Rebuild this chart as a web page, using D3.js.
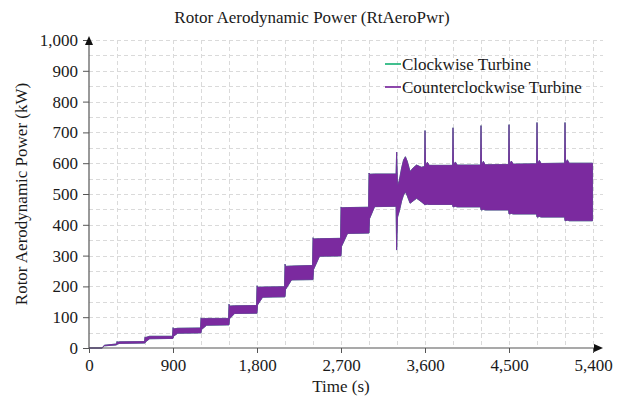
<!DOCTYPE html>
<html>
<head>
<meta charset="utf-8">
<script src="https://cdn.jsdelivr.net/npm/d3@7"></script>
<style>
  body { margin: 0; background: #fff; }
  svg text { font-family: "Liberation Serif", "Times New Roman", serif; fill: #1a1a1a; }
</style>
</head>
<body>
<svg id="chart" width="624" height="403"></svg>
<script>
// rotor power envelope (min/max of the oscillating signal), both turbines
const timeS = [0, 140, 165, 295, 300, 306, 330, 595, 600, 606, 650, 895, 900, 906, 950, 1195,
  1200, 1206, 1260, 1495, 1500, 1506, 1560, 1795, 1800, 1806, 1860, 2095, 2100, 2106, 2170, 2395,
  2400, 2406, 2470, 2695, 2700, 2706, 2770, 2995, 3000, 3006, 3060, 3290, 3296, 3306, 3325, 3350,
  3370, 3390, 3410, 3440, 3475, 3510, 3560, 3595, 3600, 3606, 3625, 3645, 3895, 3900, 3906, 3925,
  3945, 4195, 4200, 4206, 4225, 4245, 4495, 4500, 4506, 4525, 4545, 4795, 4800, 4806, 4825, 4845,
  5095, 5100, 5106, 5125, 5145, 5395];
const upperKW = [0, 0, 9, 13, 21, 19, 20, 21, 36, 34, 38, 38, 66, 62, 64, 65,
  98, 95, 96, 96, 142, 136, 137, 138, 202, 197, 198, 199, 272, 265, 266, 268,
  358, 354, 355, 356, 458, 455, 456, 457, 568, 564, 565, 565, 636, 525, 545, 585,
  610, 621, 606, 573, 585, 594, 587, 589, 706, 592, 603, 593, 593, 715, 593, 604,
  594, 594, 722, 594, 606, 595, 596, 725, 596, 607, 597, 598, 732, 598, 609, 599,
  600, 732, 600, 611, 600, 600];
const lowerKW = [0, 0, 7, 10, 12, 13, 15, 16, 16, 20, 30, 31, 31, 38, 48, 49,
  49, 60, 74, 75, 75, 95, 112, 113, 113, 140, 165, 166, 166, 190, 221, 222,
  222, 255, 298, 299, 299, 330, 372, 373, 373, 420, 459, 460, 318, 425, 445, 478,
  497, 507, 494, 470, 478, 486, 475, 466, 464, 466, 467, 466, 466, 458, 458, 460,
  458, 458, 448, 448, 450, 448, 448, 435, 435, 437, 435, 435, 425, 425, 427, 425,
  425, 413, 413, 415, 413, 413];

const xTicks = [0, 900, 1800, 2700, 3600, 4500, 5400];
const yTicks = [0, 100, 200, 300, 400, 500, 600, 700, 800, 900, 1000];
const seriesNames = ["Clockwise Turbine", "Counterclockwise Turbine"];
const seriesColors = ["#22b67c", "#7b2a9f"];

const svg = d3.select("#chart");
const m = {left: 89, right: 593, top: 40, bottom: 348};

const x = d3.scaleLinear().domain([0, 5400]).range([m.left, m.right]);
const y = d3.scaleLinear().domain([0, 1000]).range([m.bottom, m.top]);

// dashed grid, finer than the labelled ticks
const grid = svg.append("g").attr("stroke", "#dadada").attr("stroke-dasharray", "4,3").attr("stroke-width", 1);
grid.selectAll("line.h").data(d3.range(50, 1001, 50)).enter().append("line")
  .attr("x1", m.left).attr("x2", 603)
  .attr("y1", d => Math.round(y(d)) + 0.5).attr("y2", d => Math.round(y(d)) + 0.5);
grid.selectAll("line.v").data(d3.range(300, 5401, 300)).enter().append("line")
  .attr("y1", m.top).attr("y2", m.bottom)
  .attr("x1", d => Math.round(x(d)) + 0.5).attr("x2", d => Math.round(x(d)) + 0.5);

const band = timeS.map((t, i) => ({t: t, hi: upperKW[i], lo: lowerKW[i]}));
const area = d3.area().x(d => x(d.t)).y0(d => y(d.lo)).y1(d => y(d.hi));

// clockwise first, counterclockwise drawn over it
seriesColors.forEach(c => {
  svg.append("path").datum(band)
    .attr("d", area)
    .attr("fill", c)
    .attr("stroke", c)
    .attr("stroke-width", 0.8);
});

// axes
const yAxis = svg.append("g").attr("transform", `translate(${m.left},0)`)
  .call(d3.axisLeft(y).tickValues(yTicks).tickFormat(d3.format(",")).tickSize(6).tickPadding(5));
const xAxis = svg.append("g").attr("transform", `translate(0,${m.bottom})`)
  .call(d3.axisBottom(x).tickValues(xTicks).tickFormat(d3.format(",")).tickSize(5).tickPadding(6));
[yAxis, xAxis].forEach(a => {
  a.select(".domain").remove();
  a.selectAll("line").attr("stroke", "#555");
  a.selectAll("text").attr("font-size", 17).attr("font-family", "Liberation Serif").attr("fill", "#1a1a1a");
});

svg.append("line").attr("x1", m.left).attr("x2", m.left).attr("y1", m.bottom).attr("y2", 44)
  .attr("stroke", "#555").attr("stroke-width", 1.2);
svg.append("line").attr("x1", m.left).attr("x2", 597).attr("y1", m.bottom).attr("y2", m.bottom)
  .attr("stroke", "#555").attr("stroke-width", 1.2);
svg.append("path").attr("d", `M${m.left},36 L${m.left - 4},45 L${m.left + 4},45 Z`).attr("fill", "#111");
svg.append("path").attr("d", `M603,${m.bottom} L594,${m.bottom - 4} L594,${m.bottom + 4} Z`).attr("fill", "#111");

// titles
svg.append("text").attr("x", 312).attr("y", 23).attr("text-anchor", "middle")
  .attr("font-size", 17).text("Rotor Aerodynamic Power (RtAeroPwr)");
svg.append("text").attr("x", 341).attr("y", 392).attr("text-anchor", "middle")
  .attr("font-size", 17).text("Time (s)");
svg.append("text").attr("transform", "translate(27,194) rotate(-90)").attr("text-anchor", "middle")
  .attr("font-size", 17).text("Rotor Aerodynamic Power (kW)");

// legend
const leg = svg.append("g").selectAll("g").data(seriesNames).enter().append("g")
  .attr("transform", (d, i) => `translate(385,${64 + i * 23})`);
leg.append("line").attr("x1", 0).attr("x2", 16).attr("y1", 0).attr("y2", 0)
  .attr("stroke", (d, i) => seriesColors[i]).attr("stroke-width", 2).attr("opacity", 0.85);
leg.append("text").attr("x", 17).attr("y", 6).attr("font-size", 17).text(d => d);
</script>
</body>
</html>
